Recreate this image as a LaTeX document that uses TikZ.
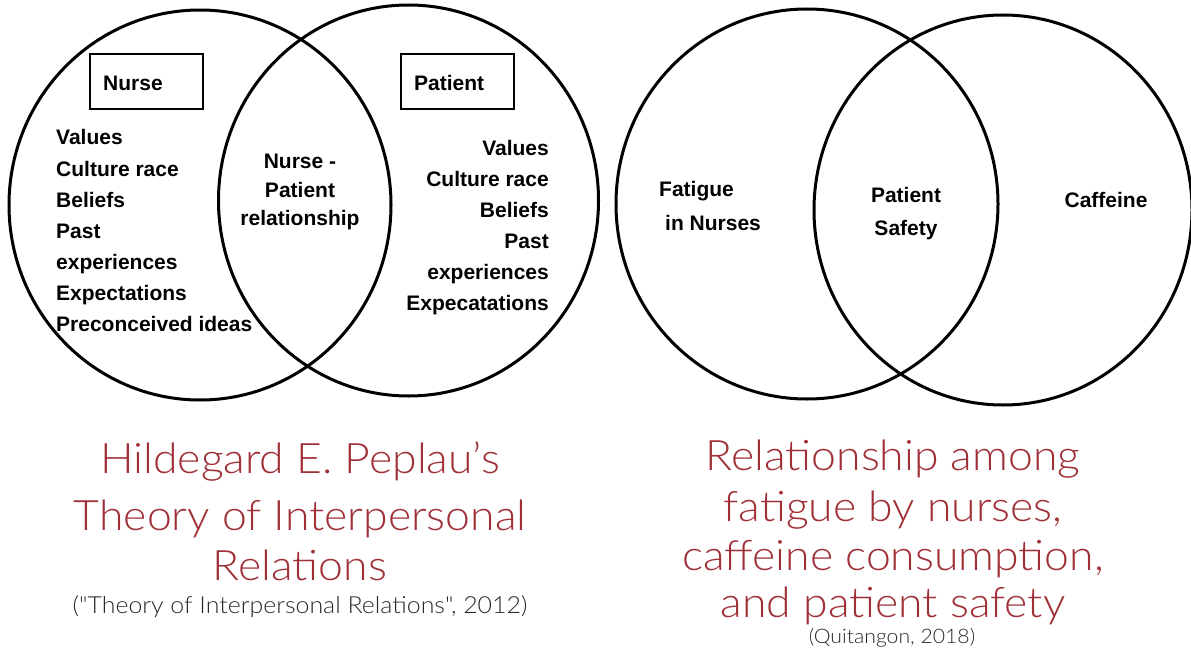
\documentclass[tikz,border=0pt]{standalone}
\usepackage{fontspec}
\setmainfont{Liberation Sans}
\IfFontExistsTF{Lato Light}{\newfontfamily\titlefont[FakeStretch=1.06]{Lato Light}}{\newfontfamily\titlefont[FakeStretch=1.06]{Lato}}
\definecolor{titlered}{RGB}{160,48,56}
\definecolor{citegray}{RGB}{40,40,40}
\begin{document}
\begin{tikzpicture}[x=1pt,y=-1pt,
  venn/.style={draw=black, line width=3pt},
  boxst/.style={draw=black, line width=2pt, minimum width=113pt, minimum height=55pt, inner sep=0pt},
  lbl/.style={font=\fontsize{21}{21}\bfseries, inner sep=0pt},
  ttl/.style={font=\titlefont\fontsize{42}{42}\selectfont, text=titlered, inner sep=0pt, anchor=base},
  citeL/.style={font=\titlefont\fontsize{23.5}{23.5}\selectfont, text=citegray, inner sep=0pt, anchor=base},
  citeR/.style={font=\titlefont\fontsize{20}{20}\selectfont, text=citegray, inner sep=0pt, anchor=base}]
\useasboundingbox (0,0) rectangle (1191,650);
% Venn circles
\draw[venn] (200,205) ellipse [x radius=191pt, y radius=195pt];
\draw[venn] (408.5,200.5) ellipse [x radius=190pt, y radius=195.5pt];
\draw[venn] (807,204) ellipse [x radius=191pt, y radius=195pt];
\draw[venn] (1003,210) ellipse [x radius=189pt, y radius=195pt];
% boxes
\node[boxst] (nursebox) at (146.5,81.5) {};
\node[boxst] (patientbox) at (457.5,81.5) {};
\node[lbl, anchor=base west] (nurse) at (103,91) {Nurse};
\node[lbl, anchor=base west] (patient) at (414,91) {Patient};
% left list
\node[lbl, anchor=base west] (l1) at (56,145) {Values};
\node[lbl, anchor=base west] (l2) at (56,176) {Culture race};
\node[lbl, anchor=base west] (l3) at (56,207) {Beliefs};
\node[lbl, anchor=base west] (l4) at (56,238) {Past};
\node[lbl, anchor=base west] (l5) at (56,269) {experiences};
\node[lbl, anchor=base west] (l6) at (56,300) {Expectations};
\node[lbl, anchor=base west] (l7) at (56,331) {Preconceived ideas};
% right list
\node[lbl, anchor=base east] (r1) at (549,155) {Values};
\node[lbl, anchor=base east] (r2) at (549,186) {Culture race};
\node[lbl, anchor=base east] (r3) at (549,217) {Beliefs};
\node[lbl, anchor=base east] (r4) at (549,248) {Past};
\node[lbl, anchor=base east] (r5) at (549,279) {experiences};
\node[lbl, anchor=base east] (r6) at (549,310) {Expecatations};
% center
\node[lbl, anchor=base] (c1) at (300,168) {Nurse -};
\node[lbl, anchor=base] (c2) at (300,197) {Patient};
\node[lbl, anchor=base] (c3) at (300,225) {relationship};
% right diagram
\node[lbl, anchor=base west] (f1) at (659,196) {Fatigue};
\node[lbl, anchor=base west] (f2) at (665,230) {in Nurses};
\node[lbl, anchor=base] (s1) at (906,202) {Patient};
\node[lbl, anchor=base] (s2) at (906,235) {Safety};
\node[lbl, anchor=base] (caf) at (1106,207) {Caffeine};
% titles
\node[ttl] (t1) at (300,473) {Hildegard E. Peplau’s};
\node[ttl] (t2) at (300,530) {Theory of Interpersonal};
\node[ttl] (t3) at (300,580) {Relations};
\node[citeL] (t4) at (300,613) {("Theory of Interpersonal Relations", 2012)};
\node[ttl] (u1) at (893,470) {Relationship among};
\node[ttl] (u2) at (893,521) {fatigue by nurses,};
\node[ttl] (u3) at (893,570) {caffeine consumption,};
\node[ttl] (u4) at (893,617) {and patient safety};
\node[citeR] (u5) at (892,643) {(Quitangon, 2018)};
\end{tikzpicture}
\end{document}
